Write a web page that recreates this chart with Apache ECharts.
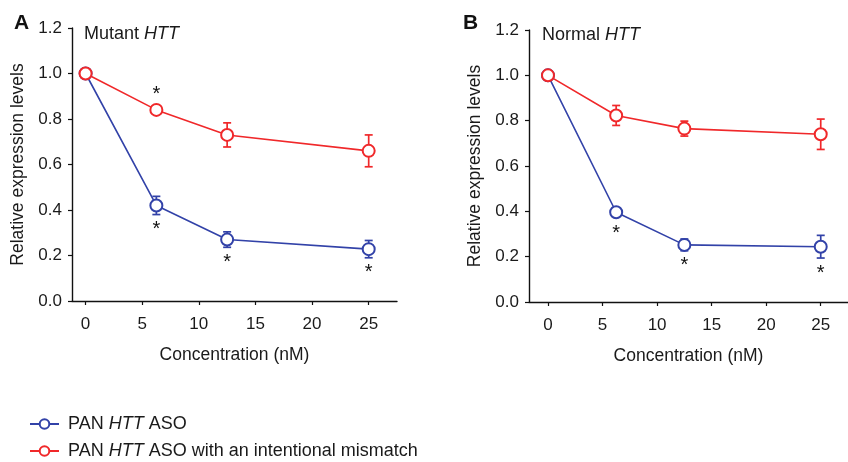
<!DOCTYPE html>
<html>
<head>
<meta charset="utf-8">
<script src="https://cdn.jsdelivr.net/npm/echarts@6/dist/echarts.min.js"></script>
<style>
  html, body { margin: 0; padding: 0; background: #fff; }
  #chart { width: 848px; height: 462px; }
</style>
</head>
<body>
<div id="chart"></div>
<script>
// concentrations (nM) and axis ticks
const conc = [0, 6.25, 12.5, 25]
const xTicks = [0, 5, 10, 15, 20, 25]

// panel A: mutant HTT
const mutantPan = [1.0, 0.42, 0.27, 0.228]
const mutantPanErr = [0, 0.04, 0.034, 0.038]
const mutantMis = [1.0, 0.84, 0.73, 0.66]
const mutantMisErr = [0, 0, 0.053, 0.07]
const mutantStars = [[6.25, 'mis', 'above'], [6.25, 'pan', 'below'], [12.5, 'pan', 'below'], [25, 'pan', 'below']]

// panel B: normal HTT
const normalPan = [1.0, 0.396, 0.252, 0.244]
const normalPanErr = [0, 0, 0.026, 0.05]
const normalMis = [1.0, 0.823, 0.765, 0.74]
const normalMisErr = [0, 0.044, 0.033, 0.067]
const normalStars = [[6.25, 'pan', 'below'], [12.5, 'pan', 'below'], [25, 'pan', 'below']]

const names = ['PAN HTT ASO', 'PAN HTT ASO with an intentional mismatch']
const BLUE = '#3242a8'
const RED = '#f0282a'
const FONT = 'Liberation Sans, Arial, sans-serif'
const FS = 17

function pairs (ys) {
  return conc.map((x, i) => [x, ys[i]])
}

function errSeries (idx, ys, errs, color) {
  return {
    type: 'custom',
    xAxisIndex: idx,
    yAxisIndex: idx,
    z: 1,
    silent: true,
    data: conc.map((x, i) => [x, ys[i], errs[i]]),
    renderItem (params, api) {
      const err = api.value(2)
      if (!err) return null
      const top = api.coord([api.value(0), api.value(1) + err])
      const bot = api.coord([api.value(0), api.value(1) - err])
      const w = 4
      const style = { stroke: color, lineWidth: 1.7 }
      return {
        type: 'group',
        children: [
          { type: 'line', shape: { x1: top[0], y1: top[1], x2: bot[0], y2: bot[1] }, style },
          { type: 'line', shape: { x1: top[0] - w, y1: top[1], x2: top[0] + w, y2: top[1] }, style },
          { type: 'line', shape: { x1: bot[0] - w, y1: bot[1], x2: bot[0] + w, y2: bot[1] }, style }
        ]
      }
    }
  }
}

function starSeries (idx, stars, pan, panErr, mis, misErr) {
  const data = stars.map(s => {
    const i = conc.indexOf(s[0])
    const y = s[1] === 'pan' ? pan[i] : mis[i]
    const e = s[1] === 'pan' ? panErr[i] : misErr[i]
    return [s[0], y, e, s[2] === 'above' ? -1 : 1]
  })
  return {
    type: 'custom',
    xAxisIndex: idx,
    yAxisIndex: idx,
    silent: true,
    data,
    renderItem (params, api) {
      const p = api.coord([api.value(0), api.value(1)])
      const errPx = api.size([0, api.value(2)])[1]
      const off = Math.max(errPx, 6) + 12
      const cy = p[1] + api.value(3) * off
      return {
        type: 'text',
        x: p[0],
        y: cy + 3,
        style: { text: '*', fill: '#111', font: '20px ' + FONT, align: 'center', verticalAlign: 'middle' }
      }
    }
  }
}

function lineSeries (idx, name, ys, color) {
  return {
    type: 'line',
    name,
    xAxisIndex: idx,
    yAxisIndex: idx,
    z: 3,
    data: pairs(ys),
    symbol: 'emptyCircle',
    symbolSize: 12,
    color,
    itemStyle: { color, borderWidth: 1.8 },
    lineStyle: { color, width: 1.6 },
    emphasis: { disabled: true }
  }
}

function xAxis (idx, min, max) {
  return {
    type: 'value',
    gridIndex: idx,
    min,
    max,
    name: 'Concentration (nM)',
    nameLocation: 'middle',
    nameGap: 45,
    nameTextStyle: { fontFamily: FONT, fontSize: 17.5, color: '#1a1a1a' },
    splitLine: { show: false },
    axisLine: { onZero: false, lineStyle: { color: '#111', width: 1.4 } },
    axisTick: { customValues: xTicks, length: 4, lineStyle: { color: '#111', width: 1.2 } },
    axisLabel: { customValues: xTicks, margin: 15, fontFamily: FONT, fontSize: FS, color: '#1a1a1a' }
  }
}

function yAxis (idx) {
  return {
    type: 'value',
    gridIndex: idx,
    min: 0,
    max: 1.2,
    interval: 0.2,
    name: 'Relative expression levels',
    nameLocation: 'middle',
    nameGap: 45,
    nameTextStyle: { fontFamily: FONT, fontSize: 17.5, color: '#1a1a1a' },
    splitLine: { show: false },
    axisLine: { show: true, onZero: false, lineStyle: { color: '#111', width: 1.4 } },
    axisTick: { show: true, length: 4, lineStyle: { color: '#111', width: 1.2 } },
    axisLabel: { margin: 10, fontFamily: FONT, fontSize: FS, color: '#1a1a1a', formatter: v => v.toFixed(1) }
  }
}

const italicRich = { i: { fontStyle: 'italic', fontFamily: FONT, fontSize: 18, color: '#1a1a1a' } }

function legend (name, top) {
  return {
    left: 24,
    top,
    itemWidth: 29,
    itemHeight: 12,
    data: [name],
    formatter: n => n.replace('HTT', '{i|HTT}'),
    textStyle: { fontFamily: FONT, fontSize: 18, color: '#1a1a1a', padding: [0, 0, 0, 4], rich: italicRich }
  }
}

const chart = echarts.init(document.getElementById('chart'), null, { renderer: 'canvas' })
chart.setOption({
  animation: false,
  backgroundColor: '#fff',
  title: [
    { text: 'A', left: 9, top: 8, textStyle: { fontFamily: FONT, fontSize: 21, fontWeight: 'bold', color: '#111' } },
    { text: 'B', left: 458, top: 8, textStyle: { fontFamily: FONT, fontSize: 21, fontWeight: 'bold', color: '#111' } },
    { text: 'Mutant {i|HTT}', left: 79, top: 20, textStyle: { fontFamily: FONT, fontSize: 18, fontWeight: 'normal', color: '#1a1a1a', rich: italicRich } },
    { text: 'Normal {i|HTT}', left: 537, top: 21, textStyle: { fontFamily: FONT, fontSize: 18, fontWeight: 'normal', color: '#1a1a1a', rich: italicRich } }
  ],
  grid: [
    { left: 72, top: 28, width: 325, height: 273 },
    { left: 529, top: 30, width: 331, height: 272 }
  ],
  xAxis: [xAxis(0, -1.2, 27.5), xAxis(1, -1.74, 27.5)],
  yAxis: [yAxis(0), yAxis(1)],
  legend: [legend(names[0], 410), legend(names[1], 437)],
  series: [
    errSeries(0, mutantPan, mutantPanErr, BLUE),
    errSeries(0, mutantMis, mutantMisErr, RED),
    lineSeries(0, names[0], mutantPan, BLUE),
    lineSeries(0, names[1], mutantMis, RED),
    starSeries(0, mutantStars, mutantPan, mutantPanErr, mutantMis, mutantMisErr),
    errSeries(1, normalPan, normalPanErr, BLUE),
    errSeries(1, normalMis, normalMisErr, RED),
    lineSeries(1, names[0], normalPan, BLUE),
    lineSeries(1, names[1], normalMis, RED),
    starSeries(1, normalStars, normalPan, normalPanErr, normalMis, normalMisErr)
  ]
})
</script>
</body>
</html>
